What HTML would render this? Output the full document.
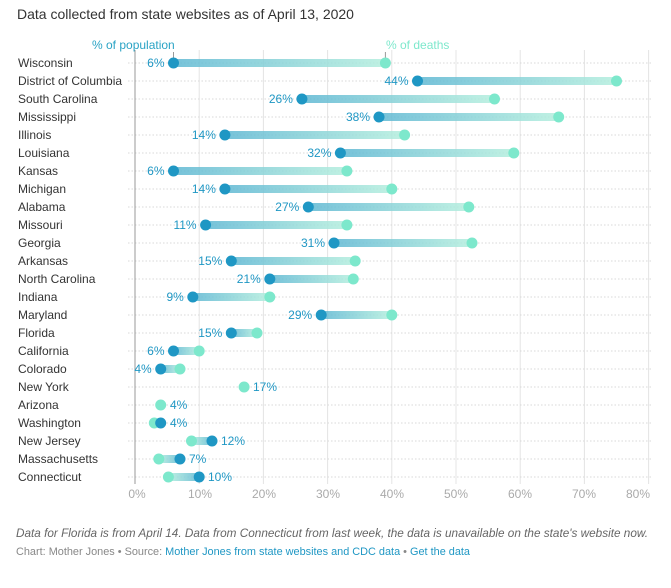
<!DOCTYPE html>
<html><head><meta charset="utf-8"><style>
body{margin:0;background:#fff;font-family:"Liberation Sans",sans-serif;}
</style></head><body>
<svg width="671" height="583" xmlns="http://www.w3.org/2000/svg" font-family="Liberation Sans, sans-serif">
<defs>
<linearGradient id="g1" x1="0" x2="1" y1="0" y2="0"><stop offset="0" stop-color="#5fb8d3"/><stop offset="1" stop-color="#b5efde"/></linearGradient>
<linearGradient id="g2" x1="0" x2="1" y1="0" y2="0"><stop offset="0" stop-color="#b5efde"/><stop offset="1" stop-color="#5fb8d3"/></linearGradient>
</defs>
<text x="17" y="19" font-size="14" fill="#333">Data collected from state websites as of April 13, 2020</text>
<g stroke="#e4e4e4" stroke-width="1">
<line x1="199.2" y1="50" x2="199.2" y2="484"/><line x1="263.4" y1="50" x2="263.4" y2="484"/><line x1="327.6" y1="50" x2="327.6" y2="484"/><line x1="391.8" y1="50" x2="391.8" y2="484"/><line x1="456" y1="50" x2="456" y2="484"/><line x1="520.2" y1="50" x2="520.2" y2="484"/><line x1="584.4" y1="50" x2="584.4" y2="484"/><line x1="648.6" y1="50" x2="648.6" y2="484"/>
</g>
<g stroke="#d8d8d8" stroke-width="1" stroke-dasharray="1.5,2">
<line x1="128" y1="63" x2="652" y2="63"/><line x1="128" y1="81" x2="652" y2="81"/><line x1="128" y1="99" x2="652" y2="99"/><line x1="128" y1="117" x2="652" y2="117"/><line x1="128" y1="135" x2="652" y2="135"/><line x1="128" y1="153" x2="652" y2="153"/><line x1="128" y1="171" x2="652" y2="171"/><line x1="128" y1="189" x2="652" y2="189"/><line x1="128" y1="207" x2="652" y2="207"/><line x1="128" y1="225" x2="652" y2="225"/><line x1="128" y1="243" x2="652" y2="243"/><line x1="128" y1="261" x2="652" y2="261"/><line x1="128" y1="279" x2="652" y2="279"/><line x1="128" y1="297" x2="652" y2="297"/><line x1="128" y1="315" x2="652" y2="315"/><line x1="128" y1="333" x2="652" y2="333"/><line x1="128" y1="351" x2="652" y2="351"/><line x1="128" y1="369" x2="652" y2="369"/><line x1="128" y1="387" x2="652" y2="387"/><line x1="128" y1="405" x2="652" y2="405"/><line x1="128" y1="423" x2="652" y2="423"/><line x1="128" y1="441" x2="652" y2="441"/><line x1="128" y1="459" x2="652" y2="459"/><line x1="128" y1="477" x2="652" y2="477"/>
</g>
<line x1="135" y1="50" x2="135" y2="484" stroke="#999" stroke-width="1"/>
<g font-size="12" fill="#333">
<text x="18" y="67">Wisconsin</text><text x="18" y="85">District of Columbia</text><text x="18" y="103">South Carolina</text><text x="18" y="121">Mississippi</text><text x="18" y="139">Illinois</text><text x="18" y="157">Louisiana</text><text x="18" y="175">Kansas</text><text x="18" y="193">Michigan</text><text x="18" y="211">Alabama</text><text x="18" y="229">Missouri</text><text x="18" y="247">Georgia</text><text x="18" y="265">Arkansas</text><text x="18" y="283">North Carolina</text><text x="18" y="301">Indiana</text><text x="18" y="319">Maryland</text><text x="18" y="337">Florida</text><text x="18" y="355">California</text><text x="18" y="373">Colorado</text><text x="18" y="391">New York</text><text x="18" y="409">Arizona</text><text x="18" y="427">Washington</text><text x="18" y="445">New Jersey</text><text x="18" y="463">Massachusetts</text><text x="18" y="481">Connecticut</text>
</g>
<text x="92" y="49" font-size="12" fill="#2aa3c5">% of population</text>
<line x1="173.5" y1="52" x2="173.5" y2="58" stroke="#999"/>
<text x="386" y="49" font-size="12" fill="#7de8cc">% of deaths</text>
<line x1="385.4" y1="52" x2="385.4" y2="58" stroke="#999"/>
<g opacity="0.85">
<rect x="173.5" y="59" width="211.9" height="8" fill="url(#g1)"/>
<rect x="417.5" y="77" width="199" height="8" fill="url(#g1)"/>
<rect x="301.9" y="95" width="192.6" height="8" fill="url(#g1)"/>
<rect x="379" y="113" width="179.7" height="8" fill="url(#g1)"/>
<rect x="224.9" y="131" width="179.7" height="8" fill="url(#g1)"/>
<rect x="340.4" y="149" width="173.4" height="8" fill="url(#g1)"/>
<rect x="173.5" y="167" width="173.4" height="8" fill="url(#g1)"/>
<rect x="224.9" y="185" width="166.9" height="8" fill="url(#g1)"/>
<rect x="308.3" y="203" width="160.5" height="8" fill="url(#g1)"/>
<rect x="205.6" y="221" width="141.3" height="8" fill="url(#g1)"/>
<rect x="334" y="239" width="138" height="8" fill="url(#g1)"/>
<rect x="231.3" y="257" width="123.9" height="8" fill="url(#g1)"/>
<rect x="269.8" y="275" width="83.5" height="8" fill="url(#g1)"/>
<rect x="192.8" y="293" width="77" height="8" fill="url(#g1)"/>
<rect x="321.2" y="311" width="70.6" height="8" fill="url(#g1)"/>
<rect x="231.3" y="329" width="25.7" height="8" fill="url(#g1)"/>
<rect x="173.5" y="347" width="25.7" height="8" fill="url(#g1)"/>
<rect x="160.7" y="365" width="19.3" height="8" fill="url(#g1)"/>
<rect x="154.3" y="419" width="6.4" height="8" fill="url(#g2)"/>
<rect x="191.5" y="437" width="20.5" height="8" fill="url(#g2)"/>
<rect x="158.8" y="455" width="21.2" height="8" fill="url(#g2)"/>
<rect x="168.4" y="473" width="30.8" height="8" fill="url(#g2)"/>
</g>
<g fill="#7de8cc">
<circle cx="385.4" cy="63" r="5.5"/><circle cx="616.5" cy="81" r="5.5"/><circle cx="494.5" cy="99" r="5.5"/><circle cx="558.7" cy="117" r="5.5"/><circle cx="404.6" cy="135" r="5.5"/><circle cx="513.8" cy="153" r="5.5"/><circle cx="346.9" cy="171" r="5.5"/><circle cx="391.8" cy="189" r="5.5"/><circle cx="468.8" cy="207" r="5.5"/><circle cx="346.9" cy="225" r="5.5"/><circle cx="472" cy="243" r="5.5"/><circle cx="355.2" cy="261" r="5.5"/><circle cx="353.3" cy="279" r="5.5"/><circle cx="269.8" cy="297" r="5.5"/><circle cx="391.8" cy="315" r="5.5"/><circle cx="257" cy="333" r="5.5"/><circle cx="199.2" cy="351" r="5.5"/><circle cx="180" cy="369" r="5.5"/><circle cx="154.3" cy="423" r="5.5"/><circle cx="191.5" cy="441" r="5.5"/><circle cx="158.8" cy="459" r="5.5"/><circle cx="168.4" cy="477" r="5.5"/>
</g>
<g fill="#1f97c4">
<circle cx="173.5" cy="63" r="5.5"/><circle cx="417.5" cy="81" r="5.5"/><circle cx="301.9" cy="99" r="5.5"/><circle cx="379" cy="117" r="5.5"/><circle cx="224.9" cy="135" r="5.5"/><circle cx="340.4" cy="153" r="5.5"/><circle cx="173.5" cy="171" r="5.5"/><circle cx="224.9" cy="189" r="5.5"/><circle cx="308.3" cy="207" r="5.5"/><circle cx="205.6" cy="225" r="5.5"/><circle cx="334" cy="243" r="5.5"/><circle cx="231.3" cy="261" r="5.5"/><circle cx="269.8" cy="279" r="5.5"/><circle cx="192.8" cy="297" r="5.5"/><circle cx="321.2" cy="315" r="5.5"/><circle cx="231.3" cy="333" r="5.5"/><circle cx="173.5" cy="351" r="5.5"/><circle cx="160.7" cy="369" r="5.5"/><circle cx="160.7" cy="423" r="5.5"/><circle cx="212" cy="441" r="5.5"/><circle cx="180" cy="459" r="5.5"/><circle cx="199.2" cy="477" r="5.5"/>
</g>
<circle cx="244.1" cy="387" r="5.5" fill="#7de8cc"/>
<circle cx="160.7" cy="405" r="5.5" fill="#7de8cc"/>
<g font-size="12" fill="#1f97c4" text-anchor="end">
<text x="164.5" y="67">6%</text><text x="408.5" y="85">44%</text><text x="292.9" y="103">26%</text><text x="370" y="121">38%</text><text x="215.9" y="139">14%</text><text x="331.4" y="157">32%</text><text x="164.5" y="175">6%</text><text x="215.9" y="193">14%</text><text x="299.3" y="211">27%</text><text x="196.6" y="229">11%</text><text x="325" y="247">31%</text><text x="222.3" y="265">15%</text><text x="260.8" y="283">21%</text><text x="183.8" y="301">9%</text><text x="312.2" y="319">29%</text><text x="222.3" y="337">15%</text><text x="164.5" y="355">6%</text><text x="151.7" y="373">4%</text>
</g>
<g font-size="12" fill="#1f97c4">
<text x="253" y="391">17%</text><text x="170" y="409">4%</text><text x="170" y="427">4%</text><text x="221" y="445">12%</text><text x="189" y="463">7%</text><text x="208" y="481">10%</text>
</g>
<g font-size="12" fill="#aaa" text-anchor="middle">
<text x="137" y="498">0%</text><text x="200" y="498">10%</text><text x="264" y="498">20%</text><text x="328" y="498">30%</text><text x="392" y="498">40%</text><text x="456" y="498">50%</text><text x="520" y="498">60%</text><text x="584" y="498">70%</text><text x="638" y="498">80%</text>
</g>
<text x="16" y="537" font-size="12" font-style="italic" fill="#666" textLength="632" lengthAdjust="spacingAndGlyphs">Data for Florida is from April 14. Data from Connecticut from last week, the data is unavailable on the state's website now.</text>
<text x="16" y="555" font-size="11" fill="#888" textLength="454" lengthAdjust="spacingAndGlyphs">Chart: Mother Jones • Source: <tspan fill="#1f97c4">Mother Jones from state websites and CDC data</tspan> • <tspan fill="#1f97c4">Get the data</tspan></text>
</svg>
</body></html>
